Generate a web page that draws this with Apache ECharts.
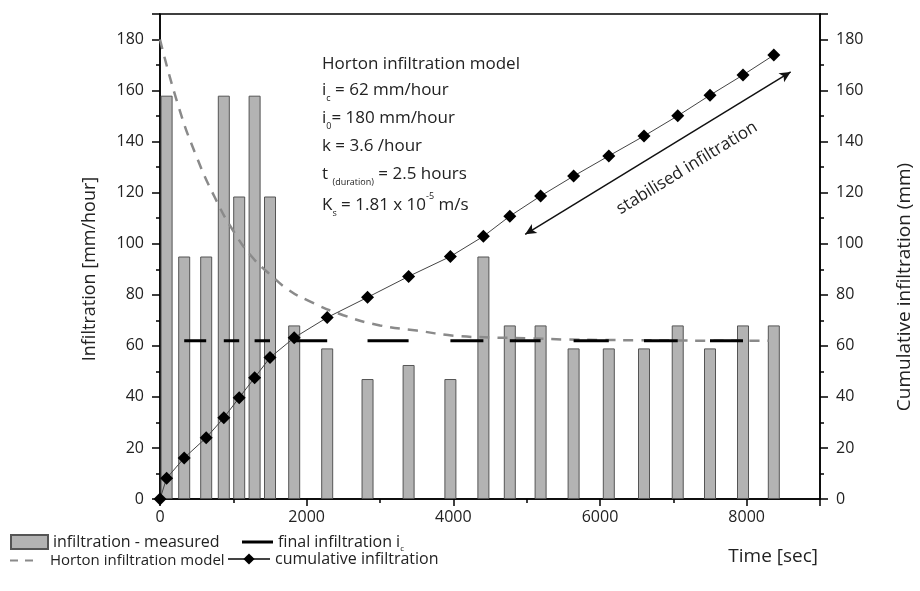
<!DOCTYPE html>
<html>
<head>
<meta charset="utf-8">
<script src="https://cdn.jsdelivr.net/npm/echarts@6/dist/echarts.min.js"></script>
<style>
  html, body { margin: 0; padding: 0; background: #fff; }
  #chart { width: 920px; height: 591px; }
</style>
</head>
<body>
<div id="chart"></div>
<script>
// ---------- data ----------
const measuredTimes = [90, 330, 630, 870, 1080, 1290, 1500, 1830, 2280, 2830, 3390, 3960, 4410, 4770, 5190, 5640, 6120, 6600, 7060, 7500, 7950, 8370];
const measuredRates = [158, 95, 95, 158, 118.5, 158, 118.5, 68, 59, 47, 52.5, 47, 95, 68, 68, 59, 59, 59, 68, 59, 68, 68];

const cumulativeTimes = [0, 90, 330, 630, 870, 1080, 1290, 1500, 1830, 2280, 2830, 3390, 3960, 4410, 4770, 5190, 5640, 6120, 6600, 7060, 7500, 7950, 8370];
const cumulativeValues = [0, 8.1, 16.1, 24, 31.8, 39.7, 47.5, 55.4, 63.2, 71.1, 79, 87.2, 95, 102.9, 110.8, 118.7, 126.5, 134.4, 142.2, 150.1, 158.2, 166.1, 173.9];

const hortonTimes = [0, 250, 500, 750, 1000, 1250, 1500, 1750, 2000, 2500, 3000, 3500, 4000, 4500, 5000, 5500, 6000, 6500, 7000, 7500, 8000, 8300];
const hortonRates = [180, 154, 134, 118, 105, 95, 88, 82, 78, 72, 68, 66, 64, 63.3, 63, 62.5, 62.3, 62.2, 62.1, 62, 62, 62];

const finalRate = 62;
const finalSegmentStarts = [330, 870, 1290, 1830, 2830, 3960, 4770, 5640, 6600, 7500];
const finalSegmentEnds   = [630, 1080, 1500, 2280, 3390, 4410, 5190, 6120, 7060, 7950];

const arrowFrom = [4980, 103.7];
const arrowTo = [8600, 167.3];

const xTicks = { min: 0, max: 9000, step: 2000 };
const yTicks = { min: 0, max: 190, step: 20 };

// ---------- build ----------
const FONT = '"Open Sans", "DejaVu Sans", sans-serif';
const TXT = '#222';

const barData = measuredTimes.map((t, i) => [t, measuredRates[i]]);
const cumData = cumulativeTimes.map((t, i) => [t, cumulativeValues[i]]);
const hortonData = hortonTimes.map((t, i) => [t, hortonRates[i]]);
const finalData = [];
finalSegmentStarts.forEach((s, i) => {
  finalData.push([s, finalRate]);
  finalData.push([finalSegmentEnds[i], finalRate]);
  finalData.push([(finalSegmentEnds[i] + (finalSegmentStarts[i + 1] || finalSegmentEnds[i] + 100)) / 2, null]);
});

const axisLineStyle = { color: '#000', width: 1.5 };
function valueAxisY(pos) {
  return {
    type: 'value', position: pos,
    min: yTicks.min, max: yTicks.max, interval: yTicks.step,
    axisLine: { show: true, lineStyle: axisLineStyle },
    axisTick: { show: true, inside: false, length: 8, lineStyle: axisLineStyle },
    minorTick: { show: true, splitNumber: 2, length: 4, lineStyle: axisLineStyle },
    splitLine: { show: false },
    axisLabel: { color: TXT, fontFamily: FONT, fontSize: 16, margin: 16, showMaxLabel: false }
  };
}

const rich = {
  a:   { fontFamily: FONT, fontSize: 17, fill: TXT, color: TXT, lineHeight: 26, verticalAlign: 'middle' },
  sub: { fontFamily: FONT, fontSize: 9,  fill: TXT, color: TXT, lineHeight: 10, verticalAlign: 'bottom' },
  sup: { fontFamily: FONT, fontSize: 9,  fill: TXT, color: TXT, lineHeight: 10, verticalAlign: 'top' }
};
function note(y, text) {
  return { type: 'text', x: 322, y: y, silent: true,
    style: { text: text, rich: rich, align: 'left', verticalAlign: 'middle', fill: TXT } };
}

const legendBase = {
  orient: 'horizontal', itemHeight: 14, selectedMode: false, padding: 0,
  textStyle: { color: TXT, fontFamily: FONT, fontSize: 16,
    rich: {
      n: { color: TXT, fontFamily: FONT, fontSize: 16 },
      s: { color: TXT, fontFamily: FONT, fontSize: 8, padding: [14, 0, 0, 0] },
      h: { color: TXT, fontFamily: FONT, fontSize: 15, padding: [0, 0, 0, 12] }
    } }
};

const chart = echarts.init(document.getElementById('chart'));
chart.setOption({
  animation: false,
  backgroundColor: '#fff',
  grid: { left: 160, right: 100, top: 14, bottom: 92, show: true, borderColor: '#000', borderWidth: 1.5 },
  xAxis: {
    type: 'value', min: xTicks.min, max: xTicks.max, interval: xTicks.step,
    axisLine: { show: true, lineStyle: axisLineStyle },
    axisTick: { show: true, inside: false, length: 7, lineStyle: axisLineStyle },
    minorTick: { show: true, splitNumber: 2, length: 4, lineStyle: axisLineStyle },
    splitLine: { show: false },
    axisLabel: { color: TXT, fontFamily: FONT, fontSize: 16, margin: 10, showMaxLabel: false,
      formatter: v => String(v) }
  },
  yAxis: [valueAxisY('left'), valueAxisY('right')],
  legend: [
    Object.assign({}, legendBase, { left: 10, top: 534, itemWidth: 37, data: [{ name: 'infiltration - measured', icon: 'rect' }] }),
    Object.assign({}, legendBase, { left: 242, top: 534, itemWidth: 31, itemHeight: 3,
      data: [{ name: 'final infiltration ic', icon: 'rect' }],
      formatter: () => '{n|final infiltration i}{s|c}' }),
    Object.assign({}, legendBase, { left: 10, top: 553, itemWidth: 23, itemHeight: 2,
      data: [{ name: 'Horton infiltration model', icon: 'path://M0,0h8v2h-8z M15,0h8v2h-8z' }],
      formatter: () => '{h|Horton infiltration model}' }),
    Object.assign({}, legendBase, { left: 227, top: 551, itemWidth: 42, data: ['cumulative infiltration'] })
  ],
  graphic: [
    note(64, '{a|Horton infiltration model}'),
    note(90, '{a|i}{sub|c}{a| = 62 mm/hour}'),
    note(118, '{a|i}{sub|0}{a|= 180 mm/hour}'),
    note(146, '{a|k = 3.6 /hour}'),
    note(174, '{a|t }{sub|(duration)}{a| = 2.5 hours}'),
    note(205, '{a|K}{sub|s}{a| = 1.81 x 10}{sup|-5}{a| m/s}'),
    { type: 'text', x: 687, y: 168, rotation: 0.55, silent: true,
      style: { text: 'stabilised infiltration', fill: TXT, font: '17px ' + FONT, align: 'center', verticalAlign: 'middle' } },
    { type: 'text', x: 90, y: 269, rotation: Math.PI / 2, silent: true,
      style: { text: 'Infiltration [mm/hour]', fill: TXT, font: '18px ' + FONT, align: 'center', verticalAlign: 'middle' } },
    { type: 'text', x: 905, y: 287, rotation: Math.PI / 2, silent: true,
      style: { text: 'Cumulative infiltration (mm)', fill: TXT, font: '19px ' + FONT, align: 'center', verticalAlign: 'middle' } },
    { type: 'text', x: 818, y: 557, silent: true,
      style: { text: 'Time [sec]', fill: TXT, font: '19px ' + FONT, align: 'right', verticalAlign: 'middle' } }
  ],
  series: [
    {
      name: 'infiltration - measured', type: 'bar', yAxisIndex: 0, barWidth: 12, z: 1,
      itemStyle: { color: '#b3b3b3', borderColor: '#555', borderWidth: 1 },
      data: barData
    },
    {
      name: 'Horton infiltration model', type: 'line', yAxisIndex: 0, z: 3, smooth: true,
      showSymbol: false, symbol: 'none',
      lineStyle: { color: '#8a8a8a', width: 2.5, type: [10, 8] },
      itemStyle: { color: '#8a8a8a' },
      data: hortonData
    },
    {
      name: 'final infiltration ic', type: 'line', yAxisIndex: 0, z: 4,
      showSymbol: false, symbol: 'none', connectNulls: false,
      lineStyle: { color: '#000', width: 3 },
      itemStyle: { color: '#000' },
      data: finalData
    },
    {
      name: 'cumulative infiltration', type: 'line', yAxisIndex: 1, z: 5,
      symbol: 'diamond', symbolSize: 13, showSymbol: true,
      lineStyle: { color: '#444', width: 1 },
      itemStyle: { color: '#000' },
      data: cumData,
      markLine: {
        silent: true, symbol: ['arrow', 'arrow'], symbolSize: [8, 11],
        label: { show: false },
        lineStyle: { color: '#111', width: 1.5, type: 'solid' },
        data: [[{ coord: arrowFrom }, { coord: arrowTo }]]
      }
    }
  ]
});
</script>
</body>
</html>
